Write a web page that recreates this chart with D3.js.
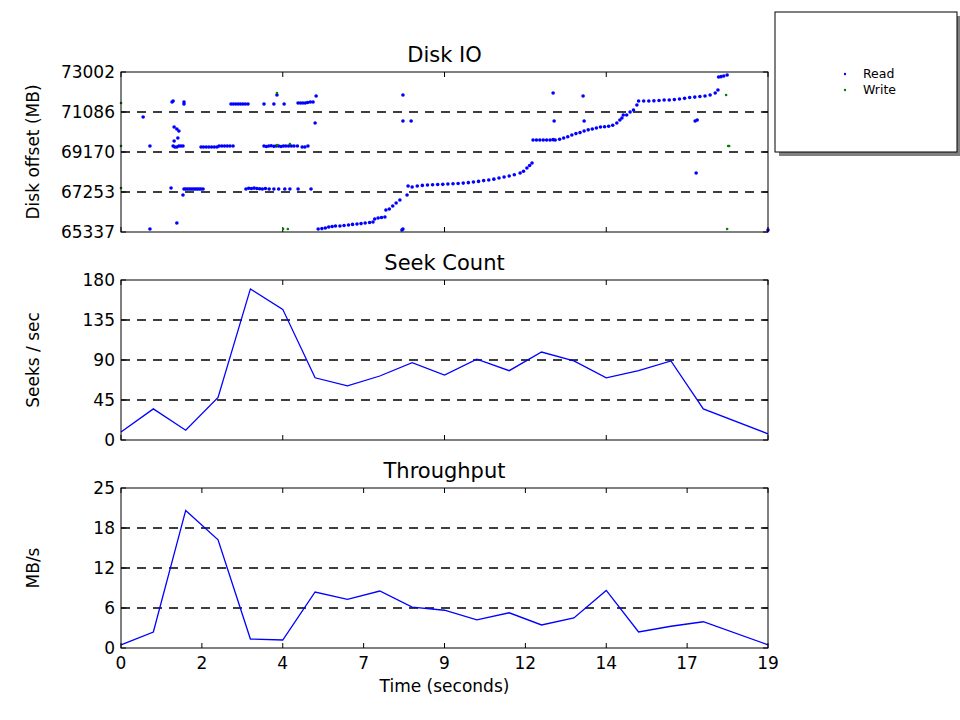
<!DOCTYPE html>
<html>
<head>
<meta charset="utf-8">
<title>Disk IO</title>
<script src="https://cdn.jsdelivr.net/npm/d3@7"></script>
<style>
  body { margin: 0; background: #fff; }
  text { font-family: "DejaVu Sans", sans-serif; }
</style>
</head>
<body>
<svg id="chart" width="960" height="720"></svg>
<script>
// ---- data ----
var sampleTimes = [0, 0.95, 1.9, 2.85, 3.8, 4.75, 5.7, 6.65, 7.6, 8.55, 9.5, 10.45, 11.4, 12.35, 13.3, 14.25, 15.2, 16.15, 17.1, 19];
var seekCounts = [9, 35, 11, 48, 170, 147, 70, 61, 72, 87, 73, 91, 78, 99, 89, 70, 78, 89, 35, 7];
var throughput = [0.5, 2.5, 21.5, 16.9, 1.4, 1.25, 8.75, 7.6, 8.9, 6.4, 5.9, 4.4, 5.5, 3.6, 4.7, 9, 2.5, 3.4, 4.1, 0.5];

var readPoints = [
  [0.65,70846],[0.85,69456],[0.85,65481],[1.47,67445],[1.50,71564],[1.53,71612],
  [1.56,70367],[1.64,70271],[1.70,70175],[1.56,69696],[1.67,69840],[1.82,67109],
  [1.53,69456],[1.58,69409],[1.64,69409],[1.70,69456],[1.76,69456],[1.82,69456],[1.64,65768],
  [1.85,71564],[1.85,71468],
  [1.85,67397],[1.90,67397],[1.95,67397],[2.00,67397],[2.05,67397],[2.10,67397],[2.15,67397],[2.20,67397],[2.25,67397],[2.30,67397],[2.35,67397],[2.41,67397],
  [2.35,69409],[2.42,69409],[2.50,69409],[2.58,69409],[2.66,69409],[2.74,69409],[2.82,69409],[2.88,69456],[2.96,69456],[3.04,69456],[3.12,69456],[3.20,69456],[3.29,69456],
  [3.23,71468],[3.30,71468],[3.37,71468],[3.44,71468],[3.51,71468],[3.58,71468],[3.65,71468],[3.73,71468],
  [3.67,67397],[3.75,67430],[3.83,67420],[3.91,67440],[3.99,67420],[4.07,67410],[4.15,67400],[4.24,67420],[4.35,67397],[4.49,67397],[4.63,67397],[4.81,67397],[4.96,67397],[5.20,67397],[5.58,67397],
  [4.20,71468],[4.49,71468],[4.79,71468],[4.58,71899],
  [4.20,69456],[4.27,69430],[4.34,69456],[4.41,69470],[4.49,69440],[4.56,69456],[4.63,69456],[4.70,69430],[4.77,69456],[4.84,69456],[4.92,69456],[5.00,69456],[5.08,69456],[5.18,69456],[5.32,69409],[5.40,69409],[5.49,69456],
  [5.20,71516],[5.27,71516],[5.34,71516],[5.41,71516],[5.48,71540],[5.56,71564],[5.64,71564],[5.73,71851],[5.70,70558],
  [5.79,65481],[5.90,65500],[6.00,65529],[6.10,65577],[6.20,65600],[6.30,65624],[6.43,65624],[6.55,65650],[6.68,65672],[6.80,65700],[6.93,65720],[7.05,65740],[7.17,65768],[7.30,65790],[7.40,65816],
  [7.45,65960],[7.55,66008],[7.65,66030],[7.75,66056],
  [7.78,66391],[7.88,66440],[7.98,66582],[8.08,66726],[8.19,66870],[8.40,67109],
  [8.28,71899],[8.28,70654],[8.52,70654],[8.25,65433],[8.28,65480],
  [8.43,67540],[8.55,67493],[8.70,67540],[8.85,67570],[9.00,67590],[9.15,67600],[9.30,67610],[9.45,67620],[9.60,67636],[9.75,67650],[9.90,67660],[10.05,67680],[10.20,67700],[10.35,67732],[10.50,67760],[10.65,67800],[10.80,67828],[10.95,67870],[11.10,67924],[11.25,67970],[11.40,68019],[11.55,68080],[11.72,68163],
  [11.82,68250],[11.92,68400],[12.00,68520],[12.07,68642],
  [12.10,69744],[12.20,69744],[12.30,69744],[12.40,69744],[12.50,69744],[12.60,69744],[12.69,69760],
  [12.75,69744],[12.88,69780],[13.00,69840],[13.12,69900],[13.24,69984],[13.36,70050],[13.48,70100],[13.60,70175],[13.72,70230],[13.84,70271],[13.96,70320],[14.08,70367],[14.20,70380],[14.32,70400],[14.44,70450],[14.56,70558],[14.65,70700],[14.71,70798],
  [14.75,70941],[14.85,70941],[14.95,71085],[15.05,71181],[15.15,71420],
  [15.20,71612],[15.35,71612],[15.50,71612],[15.65,71620],[15.80,71640],[15.95,71660],[16.10,71660],[16.25,71680],[16.40,71708],[16.55,71740],[16.70,71780],[16.85,71800],[17.00,71830],[17.15,71851],[17.30,71900],[17.45,71995],[17.53,72139],
  [17.55,72762],[17.62,72780],[17.70,72810],[17.80,72857],
  [13.57,71851],[13.60,70654],[12.69,71995],[12.72,70654],
  [16.86,70654],[16.92,70702],[16.89,68163],[19.00,65433]
];
var writePoints = [[0,71516],[0,69456],[0,67445],[4.58,71995],[4.58,69500],[4.96,69550],[4.76,65481],[4.90,65481],[17.77,71899],[17.83,69456],[17.86,69456],[17.80,65481]];

var xTickValues = [0, 2.375, 4.75, 7.125, 9.5, 11.875, 14.25, 16.625, 19];
var xTickLabels = ["0", "2", "4", "7", "9", "12", "14", "17", "19"];
var ioTicks = [65337, 67253, 69170, 71086, 73002];
var seekTicks = [0, 45, 90, 135, 180];
var tpTickValues = [0, 6.25, 12.5, 18.75, 25];
var tpTickLabels = ["0", "6", "12", "18", "25"];

// ---- layout ----
var svg = d3.select("#chart");
var left = 121, right = 768;
var x = d3.scaleLinear().domain([0, 19]).range([left, right]);

function panel(top, bottom, domain, ticks, labels, title, ylabel, xTicks, showXLabels) {
  var y = d3.scaleLinear().domain(domain).range([bottom, top]);
  var g = svg.append("g");
  // grid
  g.selectAll("line.grid").data(ticks.slice(1, -1)).enter().append("line")
    .attr("x1", left).attr("x2", right)
    .attr("y1", function (d) { return y(d); }).attr("y2", function (d) { return y(d); })
    .attr("stroke", "#000").attr("stroke-dasharray", "9,7").attr("stroke-width", 1.5);
  // inward ticks
  ticks.forEach(function (t) {
    g.append("line").attr("x1", left).attr("x2", left + 5).attr("y1", y(t)).attr("y2", y(t)).attr("stroke", "#000");
    g.append("line").attr("x1", right).attr("x2", right - 5).attr("y1", y(t)).attr("y2", y(t)).attr("stroke", "#000");
  });
  xTicks.forEach(function (t) {
    g.append("line").attr("x1", x(t)).attr("x2", x(t)).attr("y1", bottom).attr("y2", bottom - 5).attr("stroke", "#000");
    g.append("line").attr("x1", x(t)).attr("x2", x(t)).attr("y1", top).attr("y2", top + 5).attr("stroke", "#000");
  });
  g.selectAll("text.yt").data(ticks).enter().append("text")
    .attr("x", left - 6).attr("y", function (d) { return y(d); }).attr("dy", "0.35em")
    .attr("text-anchor", "end").attr("font-size", 17)
    .text(function (d, i) { return labels[i]; });
  if (showXLabels) {
    g.selectAll("text.xt").data(xTicks).enter().append("text")
      .attr("x", function (d) { return x(d); }).attr("y", bottom + 21)
      .attr("text-anchor", "middle").attr("font-size", 17)
      .text(function (d, i) { return xTickLabels[i]; });
  }
  g.append("text").attr("x", (left + right) / 2).attr("y", top - 10)
    .attr("text-anchor", "middle").attr("font-size", 21).text(title);
  g.append("text").attr("transform", "translate(" + 39 + "," + (top + bottom) / 2 + ") rotate(-90)")
    .attr("text-anchor", "middle").attr("font-size", 17).text(ylabel);
  return { y: y, g: g, top: top, bottom: bottom };
}

var p1 = panel(72, 232, [65337, 73002], ioTicks, ioTicks.map(String), "Disk IO", "Disk offset (MB)", [0, 4.75, 9.5, 14.25, 19], false);
var p2 = panel(280, 440, [0, 180], seekTicks, seekTicks.map(String), "Seek Count", "Seeks / sec", [0, 4.75, 9.5, 14.25, 19], false);
var p3 = panel(488, 648, [0, 25], tpTickValues, tpTickLabels, "Throughput", "MB/s", xTickValues, true);

p1.g.selectAll("circle.r").data(readPoints).enter().append("circle")
  .attr("cx", function (d) { return x(d[0]); }).attr("cy", function (d) { return p1.y(d[1]); })
  .attr("r", 1.8).attr("fill", "#0000ff");
p1.g.selectAll("circle.w").data(writePoints).enter().append("circle")
  .attr("cx", function (d) { return x(d[0]); }).attr("cy", function (d) { return p1.y(d[1]); })
  .attr("r", 1.3).attr("fill", "#008000");

function drawLine(p, vals) {
  var line = d3.line().x(function (d, i) { return x(sampleTimes[i]); }).y(function (d) { return p.y(d); });
  p.g.append("path").datum(vals).attr("d", line).attr("fill", "none").attr("stroke", "#0000ff").attr("stroke-width", 1.3);
}
drawLine(p2, seekCounts);
drawLine(p3, throughput);

// frames
[p1, p2, p3].forEach(function (p) {
  p.g.append("rect").attr("x", left).attr("y", p.top).attr("width", right - left).attr("height", p.bottom - p.top)
    .attr("fill", "none").attr("stroke", "#000").attr("stroke-width", 1);
});

svg.append("text").attr("x", (left + right) / 2).attr("y", 692).attr("text-anchor", "middle")
  .attr("font-size", 17).text("Time (seconds)");

// legend
svg.append("rect").attr("x", 779).attr("y", 16).attr("width", 182).attr("height", 140).attr("fill", "#808080");
svg.append("rect").attr("x", 775).attr("y", 12).attr("width", 182).attr("height", 140).attr("fill", "#fff").attr("stroke", "#000");
svg.append("circle").attr("cx", 845).attr("cy", 74).attr("r", 1.2).attr("fill", "#0000ff");
svg.append("circle").attr("cx", 845).attr("cy", 90).attr("r", 1.2).attr("fill", "#008000");
svg.append("text").attr("x", 863).attr("y", 78).attr("font-size", 12.5).text("Read");
svg.append("text").attr("x", 863).attr("y", 94).attr("font-size", 12.5).text("Write");
</script>
</body>
</html>
